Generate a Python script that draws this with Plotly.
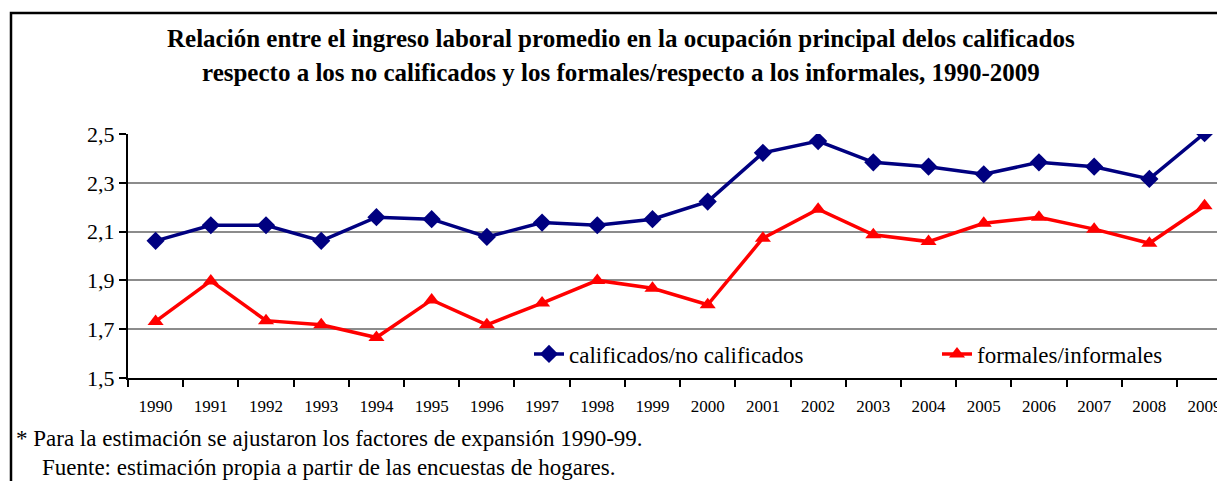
import plotly.graph_objects as go

years = [str(y) for y in range(1990, 2010)]

calificados = [2.062, 2.126, 2.126, 2.062, 2.159, 2.151, 2.078, 2.137, 2.126, 2.151,
               2.223, 2.423, 2.471, 2.384, 2.366, 2.335, 2.384, 2.366, 2.316, 2.503]

formales = [1.732, 1.898, 1.735, 1.718, 1.666, 1.820, 1.718, 1.807, 1.900, 1.868,
            1.800, 2.073, 2.192, 2.087, 2.059, 2.134, 2.159, 2.110, 2.052, 2.206]

title_lines = [
    "Relación entre el ingreso laboral promedio en la ocupación principal delos calificados",
    "respecto a los no calificados y los formales/respecto a los informales, 1990-2009",
]
notes = [
    "* Para la estimación se ajustaron los factores de expansión 1990-99.",
    "Fuente: estimación propia a partir de las encuestas de hogares.",
]

serif = "Liberation Serif"

# page body adds an 8px offset, so figure px = screen px - 8
W, H = 1217, 473
L, T, B = 120, 126, 103
PW = W - L
PB = H - B  # bottom of plot area in figure px
PH = PB - T


def px(x):
    return (x - 8 - L) / PW


def py(y):
    return (PB - (y - 8)) / PH


fig = go.Figure()

fig.add_trace(go.Scatter(
    x=years, y=calificados, name="calificados/no calificados",
    mode="lines+markers",
    line=dict(color="#000080", width=3.5),
    marker=dict(symbol="diamond", size=14, color="#000080"),
    legend="legend",
))
fig.add_trace(go.Scatter(
    x=years, y=formales, name="formales/informales",
    mode="lines+markers",
    line=dict(color="#ff0000", width=3.5),
    marker=dict(symbol="triangle-up", size=14, color="#ff0000"),
    legend="legend2",
))

fig.update_layout(
    width=W, height=H,
    margin=dict(l=L, r=0, t=T, b=B),
    paper_bgcolor="white", plot_bgcolor="white",
    separators=",.",
    font=dict(family=serif, color="black"),
    showlegend=True,
    legend=dict(
        orientation="h", x=px(529), y=py(354), xanchor="left", yanchor="middle",
        font=dict(size=23, family=serif), bgcolor="rgba(0,0,0,0)",
    ),
    legend2=dict(
        orientation="h", x=px(937), y=py(354), xanchor="left", yanchor="middle",
        font=dict(size=23, family=serif), bgcolor="rgba(0,0,0,0)",
    ),
)

fig.update_xaxes(
    type="category", range=[-0.5, 19.37],
    showline=True, linecolor="black", linewidth=2,
    ticks="outside", tickson="boundaries", ticklen=7, tickwidth=2, tickcolor="black",
    ticklabelstandoff=12,
    tickfont=dict(size=17, family=serif),
    showgrid=False, zeroline=False,
)
fig.update_yaxes(
    range=[1.5, 2.5], dtick=0.2, tick0=1.5, tickformat=".1f",
    showline=True, linecolor="black", linewidth=2,
    ticks="outside", ticklen=7, tickwidth=2, tickcolor="black",
    tickfont=dict(size=22, family=serif),
    showgrid=True, gridcolor="#8c8c8c", gridwidth=2,
    zeroline=False,
)

# title
for i, line in enumerate(title_lines):
    fig.add_annotation(
        text="<b>" + line + "</b>", xref="paper", yref="paper",
        x=px(621), y=py(38 + 34 * i),
        xanchor="center", yanchor="middle", showarrow=False,
        font=dict(size=25, family=serif, color="black"),
    )

# footnotes
note_pos = [(14, 438), (40, 467)]
for (nx, ny), note in zip(note_pos, notes):
    fig.add_annotation(
        text=note, xref="paper", yref="paper",
        x=px(nx), y=py(ny),
        xanchor="left", yanchor="middle", showarrow=False,
        font=dict(size=23, family=serif, color="black"),
    )

# chart border
fig.add_shape(
    type="rect", xref="paper", yref="paper",
    x0=px(11), x1=1.05, y0=-0.6, y1=py(13),
    line=dict(color="black", width=2.5), layer="below",
)

fig.write_html("out.html")
